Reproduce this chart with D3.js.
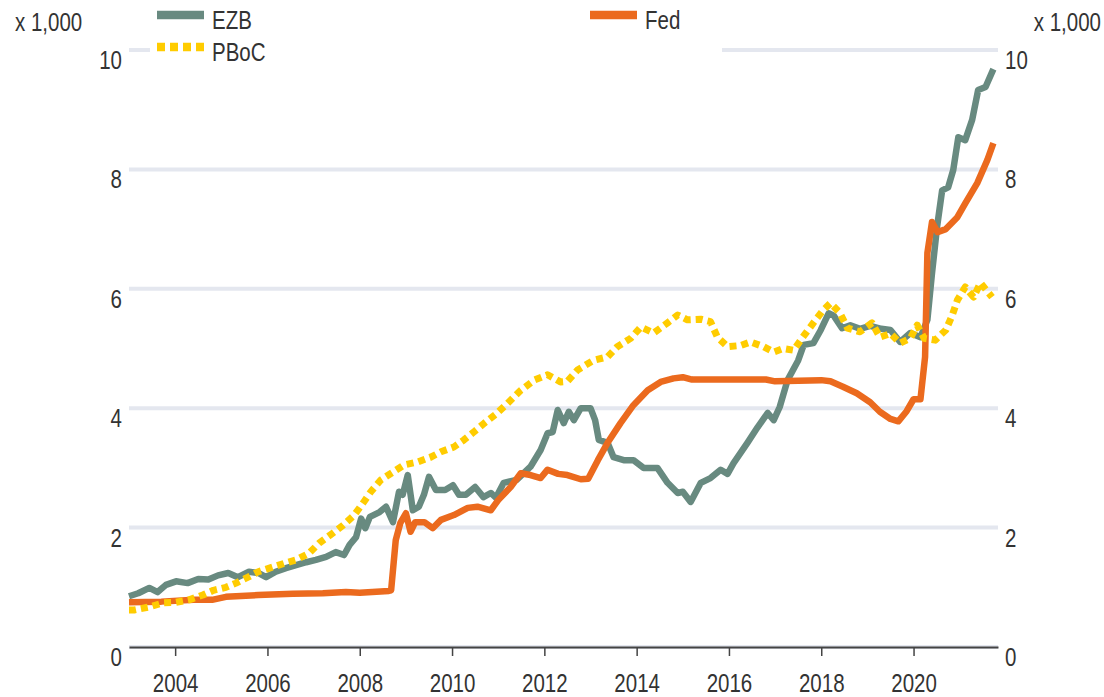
<!DOCTYPE html>
<html>
<head>
<meta charset="utf-8">
<script src="https://cdn.jsdelivr.net/npm/d3@7"></script>
<style>
    body { margin: 0; background: #fff; }
    text { font-family: "Liberation Sans", Arial, sans-serif; fill: #333; }
</style>
</head>
<body>
<svg id="chart" width="1104" height="697"></svg>
<script>
////////////////////////////////////////
///// CENTRAL BANK BALANCE SHEETS  /////
////////////////////////////////////////

// DATA: [decimal year, value x 1,000]
const ezb = [
    [2003.0,0.85],[2003.2,0.9],[2003.44,0.99],[2003.62,0.92],[2003.8,1.04],[2004.02,1.1],[2004.27,1.07],[2004.5,1.14],
    [2004.72,1.13],[2004.93,1.2],[2005.15,1.24],[2005.36,1.17],[2005.6,1.26],[2005.8,1.24],[2005.97,1.17],[2006.18,1.26],
    [2006.4,1.32],[2006.62,1.37],[2006.84,1.42],[2007.05,1.46],[2007.27,1.51],[2007.48,1.59],[2007.66,1.54],[2007.78,1.71],
    [2007.92,1.84],[2008.03,2.15],[2008.12,1.99],[2008.22,2.18],[2008.43,2.26],[2008.57,2.35],[2008.72,2.09],[2008.85,2.6],
    [2008.93,2.55],[2009.04,2.88],[2009.15,2.29],[2009.28,2.35],[2009.39,2.55],[2009.5,2.85],[2009.65,2.63],[2009.85,2.63],
    [2010.02,2.71],[2010.15,2.55],[2010.3,2.55],[2010.5,2.68],[2010.68,2.51],[2010.84,2.58],[2010.95,2.5],[2011.12,2.75],
    [2011.4,2.8],[2011.7,3.02],[2011.92,3.3],[2012.07,3.58],[2012.18,3.6],[2012.29,3.97],[2012.42,3.75],[2012.53,3.94],
    [2012.64,3.8],[2012.79,4.0],[2013.0,4.0],[2013.1,3.8],[2013.18,3.47],[2013.37,3.42],[2013.5,3.18],[2013.72,3.13],
    [2013.93,3.13],[2014.15,3.0],[2014.45,3.0],[2014.67,2.75],[2014.89,2.58],[2015.0,2.6],[2015.17,2.43],[2015.39,2.75],
    [2015.6,2.83],[2015.82,2.97],[2015.97,2.9],[2016.1,3.08],[2016.4,3.42],[2016.62,3.68],[2016.84,3.92],[2016.97,3.8],
    [2017.1,4.02],[2017.27,4.47],[2017.5,4.8],[2017.62,5.06],[2017.83,5.09],[2017.99,5.31],[2018.16,5.59],[2018.27,5.55],
    [2018.45,5.34],[2018.63,5.39],[2018.84,5.33],[2019.06,5.38],[2019.3,5.33],[2019.5,5.31],[2019.71,5.11],[2019.93,5.26],
    [2020.15,5.19],[2020.3,5.48],[2020.4,6.26],[2020.51,7.04],[2020.62,7.65],[2020.75,7.7],[2020.86,7.99],[2020.97,8.54],
    [2021.12,8.49],[2021.27,8.83],[2021.4,9.33],[2021.56,9.38],[2021.73,9.68]
]

const fed = [
    [2003.0,0.75],[2003.7,0.76],[2004.4,0.79],[2004.8,0.79],[2005.1,0.84],[2005.8,0.87],[2006.55,0.89],[2007.2,0.9],
    [2007.7,0.92],[2008.0,0.91],[2008.63,0.94],[2008.68,0.95],[2008.78,1.79],[2008.88,2.08],[2009.0,2.24],[2009.1,1.93],
    [2009.2,2.09],[2009.4,2.09],[2009.58,1.99],[2009.76,2.13],[2010.04,2.21],[2010.34,2.33],[2010.55,2.35],[2010.84,2.29],
    [2011.0,2.46],[2011.27,2.68],[2011.49,2.91],[2011.7,2.88],[2011.92,2.83],[2012.07,2.97],[2012.3,2.9],[2012.5,2.88],
    [2012.79,2.81],[2012.95,2.82],[2013.16,3.13],[2013.37,3.42],[2013.65,3.75],[2013.93,4.05],[2014.24,4.3],[2014.52,4.44],
    [2014.8,4.5],[2015.0,4.52],[2015.2,4.48],[2015.65,4.48],[2016.8,4.48],[2017.0,4.45],[2018.0,4.47],[2018.2,4.45],
    [2018.47,4.36],[2018.77,4.25],[2019.06,4.1],[2019.27,3.94],[2019.5,3.82],[2019.67,3.78],[2019.85,3.95],[2020.0,4.15],
    [2020.15,4.15],[2020.25,4.86],[2020.3,6.6],[2020.4,7.12],[2020.52,6.95],[2020.7,7.0],[2020.95,7.2],[2021.12,7.43],
    [2021.38,7.77],[2021.6,8.16],[2021.73,8.44]
]

const pboc = [
    [2003.0,0.62],[2003.11,0.62],[2003.44,0.67],[2003.74,0.74],[2004.02,0.75],[2004.3,0.79],[2004.6,0.87],[2004.83,0.95],
    [2005.1,1.0],[2005.32,1.07],[2005.58,1.17],[2005.8,1.26],[2006.12,1.34],[2006.4,1.41],[2006.62,1.46],[2006.9,1.57],
    [2007.12,1.74],[2007.42,1.91],[2007.64,2.04],[2007.88,2.21],[2008.07,2.41],[2008.24,2.6],[2008.46,2.8],[2008.72,2.93],
    [2008.96,3.05],[2009.26,3.1],[2009.54,3.18],[2009.76,3.27],[2010.04,3.35],[2010.26,3.47],[2010.47,3.6],[2010.7,3.75],
    [2010.95,3.9],[2011.2,4.08],[2011.49,4.3],[2011.78,4.47],[2012.07,4.56],[2012.35,4.44],[2012.5,4.45],[2012.72,4.64],
    [2013.06,4.8],[2013.37,4.86],[2013.58,5.03],[2013.87,5.17],[2014.09,5.36],[2014.37,5.26],[2014.67,5.43],[2014.89,5.56],
    [2015.1,5.48],[2015.39,5.49],[2015.6,5.45],[2015.75,5.19],[2015.97,5.03],[2016.25,5.05],[2016.47,5.11],[2016.75,5.03],
    [2016.97,4.94],[2017.18,5.0],[2017.4,4.97],[2017.6,5.19],[2017.83,5.43],[2018.04,5.64],[2018.2,5.76],[2018.4,5.6],
    [2018.57,5.34],[2018.84,5.28],[2019.1,5.43],[2019.27,5.19],[2019.5,5.25],[2019.71,5.09],[2019.93,5.17],[2020.08,5.39],
    [2020.23,5.17],[2020.47,5.14],[2020.7,5.31],[2020.84,5.56],[2020.95,5.81],[2021.12,6.03],[2021.3,5.86],[2021.45,6.1],
    [2021.7,5.86]
]

const yTicks = [0, 2, 4, 6, 8, 10]
const xTicks = [2004, 2006, 2008, 2010, 2012, 2014, 2016, 2018, 2020]
const unitLabel = 'x 1,000'

// SETTINGS
const settings = {
    dims: { left: 129, right: 998, top: 50, bottom: 647 },
    colour: { ezb: '#688a80', fed: '#eb6a1e', pboc: '#ffcc00', grid: '#e4e7ef', axis: '#444' },
    fontSize: 25,
    narrow: 0.82            // no condensed font installed, so squeeze Liberation Sans horizontally
}

// I. BUILD
const svg = d3.select('#chart'),
    dims = settings.dims,
    x = d3.scaleLinear().domain([2003.0, 2021.83]).range([dims.left, dims.right]),
    y = d3.scaleLinear().domain([0, 10]).range([dims.bottom, dims.top])

// X. Helper: condensed text placed at (tx, ty)
const addText = (parent, tx, ty, str, anchor = 'start') =>
    parent.append('text')
        .attr('transform', `translate(${tx},${ty}) scale(${settings.narrow},1)`)
        .attr('text-anchor', anchor)
        .attr('font-size', settings.fontSize)
        .text(str)

// 1. Gridlines
svg.append('g').selectAll('line').data(yTicks).join('line')
    .attr('x1', dims.left).attr('x2', dims.right)
    .attr('y1', d => y(d)).attr('y2', d => y(d))
    .attr('stroke', settings.colour.grid).attr('stroke-width', 4)

// 2. Y labels (both sides, text sits just below its gridline)
const yLabels = svg.append('g')
yTicks.forEach(d => {
    addText(yLabels, dims.left - 7, y(d) + 19, d, 'end')
    addText(yLabels, dims.right + 7, y(d) + 19, d)
})
addText(svg, 15, 31, unitLabel)
addText(svg, 1101, 31, unitLabel, 'end')

// 3. X axis
const xAxis = svg.append('g')
    .attr('transform', `translate(0,${dims.bottom})`)
    .call(d3.axisBottom(x).tickValues(xTicks).tickFormat(d3.format('d')).tickSize(9).tickSizeOuter(0))
xAxis.attr('font-family', null).attr('font-size', null)
xAxis.select('.domain').attr('stroke', settings.colour.axis).attr('stroke-width', 2)
xAxis.selectAll('.tick line').attr('stroke', settings.colour.axis).attr('stroke-width', 1.5)
xAxis.selectAll('.tick text')
    .attr('font-size', settings.fontSize).attr('y', 27).attr('dy', '0.71em')
    .attr('transform', `scale(${settings.narrow},1)`)
    .style('fill', '#333')

// 4. Legend (white box covers the top gridline)
svg.append('rect').attr('x', 150).attr('y', 0).attr('width', 572).attr('height', 62).attr('fill', '#fff')

const legend = [
    { key: 'ezb', label: 'EZB', x: 157, y: 15, dash: null },
    { key: 'pboc', label: 'PBoC', x: 157, y: 47, dash: '8,5' },
    { key: 'fed', label: 'Fed', x: 590, y: 15, dash: null }
]
legend.forEach(d => {
    svg.append('line')
        .attr('x1', d.x).attr('x2', d.x + 47).attr('y1', d.y).attr('y2', d.y)
        .attr('stroke', settings.colour[d.key]).attr('stroke-width', 8.5)
        .attr('stroke-dasharray', d.dash)
    addText(svg, d.x + 55, d.y + 14, d.label)
})

// 5. Series lines
const line = d3.line().x(d => x(d[0])).y(d => y(d[1]))
const series = [
    { key: 'ezb', data: ezb, width: 6.5, dash: null },
    { key: 'fed', data: fed, width: 6.5, dash: null },
    { key: 'pboc', data: pboc, width: 7, dash: '7,5' }
]
series.forEach(s => {
    svg.append('path')
        .datum(s.data)
        .attr('d', line)
        .attr('fill', 'none')
        .attr('stroke', settings.colour[s.key])
        .attr('stroke-width', s.width)
        .attr('stroke-linejoin', 'round')
        .attr('stroke-dasharray', s.dash)
})
</script>
</body>
</html>
